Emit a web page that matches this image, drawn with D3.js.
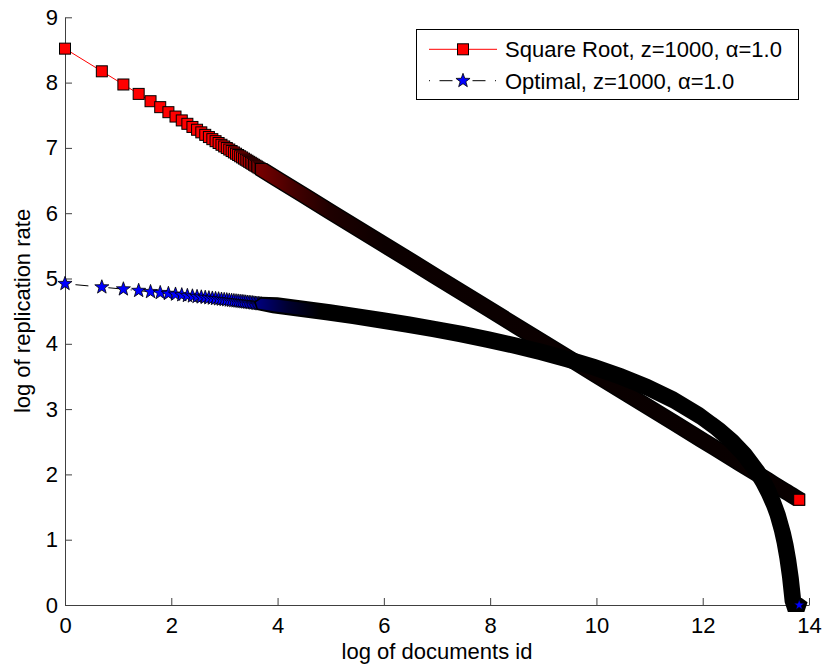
<!DOCTYPE html>
<html>
<head>
<meta charset="utf-8">
<script src="https://cdn.jsdelivr.net/npm/d3@7"></script>
<style>
  body { margin: 0; background: #fff; }
  text { font-family: "Liberation Sans", Arial, Helvetica, sans-serif; fill: #000; }
</style>
</head>
<body>
<svg id="chart" width="823" height="668"></svg>
<script>
// ---- data -------------------------------------------------------------
// Most popular documents, plotted one marker per id (x = log of the id).
const docIds = [1, 2, 3, 4, 5, 6, 7, 8, 9, 10,
                11, 12, 13, 14, 15, 16, 17, 18, 19, 20,
                21, 22, 23, 24, 25, 26, 27, 28, 29, 30,
                31, 32, 33, 34, 35, 36, 37, 38, 39, 40];

// log of replication rate, square-root allocation
const sqrtHead = [8.520, 8.173, 7.971, 7.827, 7.715, 7.624, 7.547, 7.480, 7.421, 7.369,
                  7.321, 7.278, 7.238, 7.200, 7.166, 7.134, 7.103, 7.075, 7.048, 7.022,
                  6.998, 6.975, 6.952, 6.931, 6.911, 6.891, 6.872, 6.854, 6.836, 6.819,
                  6.803, 6.787, 6.772, 6.757, 6.742, 6.728, 6.715, 6.701, 6.688, 6.676];

// log of replication rate, optimal allocation
const optHead = [4.920, 4.868, 4.837, 4.814, 4.796, 4.781, 4.768, 4.757, 4.747, 4.737,
                 4.729, 4.721, 4.714, 4.708, 4.701, 4.696, 4.690, 4.685, 4.680, 4.675,
                 4.671, 4.666, 4.662, 4.658, 4.654, 4.651, 4.647, 4.644, 4.640, 4.637,
                 4.634, 4.631, 4.628, 4.625, 4.622, 4.619, 4.616, 4.614, 4.611, 4.609];

// Remaining documents (up to id 10^6), where the markers merge into a band:
// values read at these log-id positions.
const tailLogId = [4.0, 4.5, 5.0, 5.5, 6.0, 6.5, 7.0, 7.5, 8.0, 8.5,
                   9.0, 9.5, 10.0, 10.5, 11.0, 11.5, 12.0, 12.25, 12.5, 12.75,
                   13.0, 13.1, 13.2, 13.3, 13.4, 13.5, 13.55, 13.6, 13.65, 13.7, 13.8155];
const sqrtTail = [6.520, 6.270, 6.020, 5.770, 5.520, 5.270, 5.020, 4.770, 4.520, 4.270,
                  4.020, 3.770, 3.520, 3.270, 3.020, 2.770, 2.520, 2.395, 2.270, 2.145,
                  2.020, 1.970, 1.920, 1.870, 1.820, 1.770, 1.745, 1.720, 1.695, 1.670, 1.612];
const optTail = [4.578, 4.525, 4.470, 4.411, 4.349, 4.283, 4.212, 4.136, 4.053, 3.963,
                 3.863, 3.753, 3.630, 3.488, 3.324, 3.127, 2.881, 2.732, 2.555, 2.341,
                 2.068, 1.934, 1.779, 1.595, 1.371, 1.082, 0.896, 0.668, 0.378, 0.000, 0.000];

const xTicks = [0, 2, 4, 6, 8, 10, 12, 14];
const yTicks = [0, 1, 2, 3, 4, 5, 6, 7, 8, 9];
const seriesNames = ["Square Root, z=1000, \u03b1=1.0", "Optimal, z=1000, \u03b1=1.0"];
const xTitle = "log of documents id";
const yTitle = "log of replication rate";

// ---- layout -----------------------------------------------------------
const svg = d3.select("#chart");
const x = d3.scaleLinear().domain([0, 14]).range([65, 809]);
const y = d3.scaleLinear().domain([0, 9]).range([605, 17.3]);
const FONT = 22;

const SQ = 5.5;      // half side of square marker fill
const STAR_R = 7.4;  // outer radius of pentagram
const STAR_r = 3.0;  // inner radius of pentagram

function starPath(R, r) {
  const pts = [];
  for (let k = 0; k < 10; k++) {
    const a = -Math.PI / 2 + k * Math.PI / 5;
    const rad = k % 2 === 0 ? R : r;
    pts.push([rad * Math.cos(a), rad * Math.sin(a)]);
  }
  return "M" + pts.map(p => p[0].toFixed(2) + "," + p[1].toFixed(2)).join("L") + "Z";
}

function squareCorners(p, h) {
  return [[p[0] - h, p[1] - h], [p[0] + h, p[1] - h], [p[0] + h, p[1] + h], [p[0] - h, p[1] + h]];
}
function pentagonCorners(p, R) {
  return d3.range(5).map(k => {
    const a = -Math.PI / 2 + k * 2 * Math.PI / 5;
    return [p[0] + R * Math.cos(a), p[1] + R * Math.sin(a)];
  });
}
// union of a marker shape swept along the polyline through pts
// (cornerFn receives the point and its index, so the band can taper in)
function sweptBand(pts, cornerFn) {
  let d = "";
  for (let i = 0; i < pts.length - 1; i++) {
    const hull = d3.polygonHull(cornerFn(pts[i], i).concat(cornerFn(pts[i + 1], i + 1)));
    d += "M" + hull.map(c => c[0].toFixed(2) + "," + c[1].toFixed(2)).join("L") + "Z";
  }
  return d;
}

const headX = docIds.map(id => Math.log(id));
const sqrtPts = headX.map((v, i) => [x(v), y(sqrtHead[i])]);
const optPts = headX.map((v, i) => [x(v), y(optHead[i])]);
const sqrtTailPts = tailLogId.map((v, i) => [x(v), y(sqrtTail[i])]);
const optTailPts = tailLogId.map((v, i) => [x(v), y(optTail[i])]);

// gradients for the dense part of each band
const defs = svg.append("defs");
function addGradient(id, stops) {
  const g = defs.append("linearGradient").attr("id", id)
    .attr("gradientUnits", "userSpaceOnUse")
    .attr("x1", x(0)).attr("x2", x(14)).attr("y1", 0).attr("y2", 0);
  stops.forEach(s => g.append("stop")
    .attr("offset", (x(s[0]) - x(0)) / (x(14) - x(0)))
    .attr("stop-color", s[1]));
}
addGradient("sqrtBand", [[3.6, "#7a0000"], [4.3, "#440000"], [5.0, "#1e0000"], [6.0, "#0c0000"], [14, "#080000"]]);
addGradient("optBand", [[3.6, "#000080"], [4.2, "#000030"], [4.8, "#000000"], [14, "#000000"]]);

// ---- axes -------------------------------------------------------------
const xAxis = svg.append("g").attr("transform", "translate(0,605)")
  .call(d3.axisBottom(x).tickValues(xTicks).tickFormat(d3.format("d"))
    .tickSize(-7).tickSizeOuter(0).tickPadding(12));
const yAxis = svg.append("g").attr("transform", "translate(65,0)")
  .call(d3.axisLeft(y).tickValues(yTicks).tickFormat(d3.format("d"))
    .tickSize(-7).tickSizeOuter(0).tickPadding(7));
[xAxis, yAxis].forEach(a => {
  a.selectAll("path.domain").attr("stroke", "#404040");
  a.selectAll(".tick line").attr("stroke", "#404040");
  a.selectAll("text").style("font-size", FONT + "px")
    .style("font-family", "'Liberation Sans', Arial, sans-serif").attr("fill", "#000");
});

svg.append("text").attr("x", 437).attr("y", 659).attr("text-anchor", "middle")
  .style("font-size", FONT + "px").text(xTitle);
svg.append("text").attr("transform", "translate(30,311) rotate(-90)").attr("text-anchor", "middle")
  .style("font-size", FONT + "px").text(yTitle);

// ---- square-root series ----------------------------------------------
const lineGen = d3.line();
const plot = svg.append("g");
plot.append("path").attr("d", lineGen(sqrtPts.concat(sqrtTailPts)))
  .attr("fill", "none").attr("stroke", "#ff0000").attr("stroke-width", 1);
plot.selectAll("rect.sq").data(sqrtPts).join("rect").attr("class", "sq")
  .attr("x", d => d[0] - SQ).attr("y", d => d[1] - SQ)
  .attr("width", 2 * SQ).attr("height", 2 * SQ)
  .attr("fill", "#ff0000").attr("stroke", "#000").attr("stroke-width", 1);
const sqrtBandPts = [sqrtPts[sqrtPts.length - 1]].concat(sqrtTailPts);
plot.append("path").attr("d", sweptBand(sqrtBandPts, p => squareCorners(p, SQ + 0.5))).attr("fill", "#000");
plot.append("path").attr("d", sweptBand(sqrtBandPts, p => squareCorners(p, SQ - 0.5))).attr("fill", "url(#sqrtBand)");
const sqrtLast = sqrtTailPts[sqrtTailPts.length - 1];
plot.append("rect").attr("x", sqrtLast[0] - SQ).attr("y", sqrtLast[1] - SQ)
  .attr("width", 2 * SQ).attr("height", 2 * SQ)
  .attr("fill", "#ff0000").attr("stroke", "#000").attr("stroke-width", 1);

// ---- optimal series ---------------------------------------------------
plot.append("path").attr("d", lineGen(optPts.concat(optTailPts)))
  .attr("fill", "none").attr("stroke", "#000").attr("stroke-width", 1)
  .attr("stroke-dasharray", "1,9.5,13,9.5");
const star = starPath(STAR_R, STAR_r);
plot.selectAll("path.st").data(optPts).join("path").attr("class", "st")
  .attr("d", star).attr("transform", d => `translate(${d[0]},${d[1]})`)
  .attr("fill", "#0000ff").attr("stroke", "#000").attr("stroke-width", 0.8);
const optBandPts = [optPts[optPts.length - 1]].concat(optTailPts);
plot.append("path")
  .attr("d", sweptBand(optBandPts, (p, i) => pentagonCorners(p, i === 0 ? STAR_R : STAR_R + 1.4)))
  .attr("fill", "#000");
plot.append("path")
  .attr("d", sweptBand(optBandPts, (p, i) => pentagonCorners(p, i === 0 ? STAR_R - 2.0 : STAR_R - 1.0)))
  .attr("fill", "url(#optBand)");
const optLast = optTailPts[optTailPts.length - 1];
plot.append("path").attr("d", starPath(5.5, 2.2)).attr("transform", `translate(${optLast[0]},${optLast[1]})`)
  .attr("fill", "#0000ff").attr("stroke", "#000").attr("stroke-width", 0.5);

// ---- legend -----------------------------------------------------------
const legend = svg.append("g");
legend.append("rect").attr("x", 416.5).attr("y", 29.5).attr("width", 382).attr("height", 70)
  .attr("fill", "#fff").attr("stroke", "#000").attr("stroke-width", 1);
const rowY = [49.3, 80.7];
legend.append("line").attr("x1", 429).attr("x2", 497).attr("y1", rowY[0]).attr("y2", rowY[0])
  .attr("stroke", "#ff0000").attr("stroke-width", 1);
legend.append("rect").attr("x", 463 - SQ).attr("y", rowY[0] - SQ).attr("width", 2 * SQ).attr("height", 2 * SQ)
  .attr("fill", "#ff0000").attr("stroke", "#000").attr("stroke-width", 1);
legend.append("line").attr("x1", 429).attr("x2", 497).attr("y1", rowY[1]).attr("y2", rowY[1])
  .attr("stroke", "#000").attr("stroke-width", 1).attr("stroke-dasharray", "1,9.5,13,9.5");
legend.append("path").attr("d", star).attr("transform", `translate(463,${rowY[1]})`)
  .attr("fill", "#0000ff").attr("stroke", "#000").attr("stroke-width", 0.8);
seriesNames.forEach((name, i) => {
  legend.append("text").attr("x", 505).attr("y", rowY[i] + 7.9)
    .style("font-size", FONT + "px").text(name);
});
</script>
</body>
</html>
